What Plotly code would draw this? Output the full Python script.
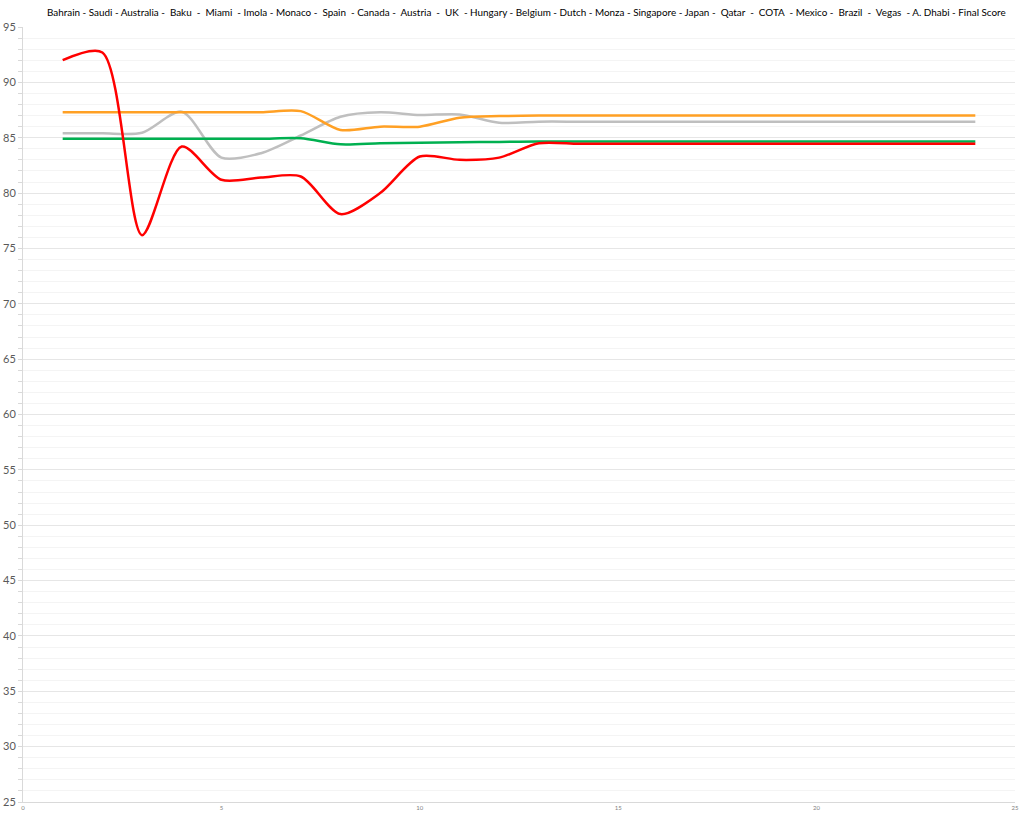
import plotly.graph_objects as go

races = list(range(1, 25))
red = [92.0, 92.7, 76.2, 84.2, 81.2, 81.4, 81.5, 78.1, 80.0, 83.3, 83.0, 83.2, 84.5,
       84.45, 84.45, 84.45, 84.45, 84.45, 84.45, 84.45, 84.45, 84.45, 84.45, 84.45]
orange = [87.3, 87.3, 87.3, 87.3, 87.3, 87.3, 87.4, 85.7, 86.0, 86.0, 86.8, 86.95, 87.0,
          87.0, 87.0, 87.0, 87.0, 87.0, 87.0, 87.0, 87.0, 87.0, 87.0, 87.0]
gray = [85.4, 85.4, 85.45, 87.35, 83.2, 83.6, 85.2, 86.9, 87.3, 87.05, 87.1, 86.35, 86.45,
        86.45, 86.45, 86.45, 86.45, 86.45, 86.45, 86.45, 86.45, 86.45, 86.45, 86.45]
green = [84.9, 84.9, 84.9, 84.9, 84.9, 84.9, 84.95, 84.4, 84.5, 84.55, 84.6, 84.62, 84.65,
         84.65, 84.65, 84.65, 84.65, 84.65, 84.65, 84.65, 84.65, 84.65, 84.65, 84.65]

title_text = ("Bahrain - Saudi - Australia -  Baku  -  Miami  - Imola - Monaco -  Spain  - Canada -  Austria  -  UK  - "
              "Hungary - Belgium - Dutch - Monza - Singapore - Japan -  Qatar  -  COTA  - Mexico -  Brazil  -  Vegas  - A. Dhabi - Final Score")

fig = go.Figure()
for vals, col in [(gray, "#BFBFBF"), (orange, "#FFA024"), (green, "#00B050"), (red, "#FF0000")]:
    fig.add_trace(go.Scatter(x=races, y=vals, mode="lines",
                             line=dict(color=col, width=2.5, shape="spline", smoothing=0.8),
                             showlegend=False, hoverinfo="skip"))

fig.update_layout(
    width=1024, height=836,
    margin=dict(l=23, r=9, t=27, b=34, autoexpand=False),
    plot_bgcolor="white", paper_bgcolor="white",
    font=dict(family="Lato, Open Sans, sans-serif", color="#595959"),
    annotations=[dict(text=title_text, xref="paper", yref="paper", x=0.508, y=1.0,
                      yshift=15, xanchor="center", yanchor="middle", showarrow=False,
                      font=dict(size=9.9, color="#000000"))],
)
fig.update_xaxes(range=[0, 25], tickvals=[0, 5, 10, 15, 20, 25], showgrid=False,
                 zeroline=False, showline=True, linecolor="#D9D9D9", linewidth=1,
                 tickfont=dict(size=6, color="#7F7F7F"), ticks="", ticklen=0,
                 automargin=False)
fig.update_yaxes(range=[25, 95], dtick=5, showgrid=True, gridcolor="#E6E6E6", gridwidth=1,
                 zeroline=False, showline=True, linecolor="#D9D9D9", linewidth=1,
                 ticks="outside", ticklen=4, tickcolor="#D9D9D9",
                 tickfont=dict(size=11, color="#595959"), automargin=False,
                 minor=dict(dtick=1, showgrid=True, gridcolor="#F4F4F4", ticks="outside",
                            ticklen=4, tickcolor="#D9D9D9"))

fig.write_html("out.html", config={"displayModeBar": False},
               post_script="document.body.style.margin='0';")
